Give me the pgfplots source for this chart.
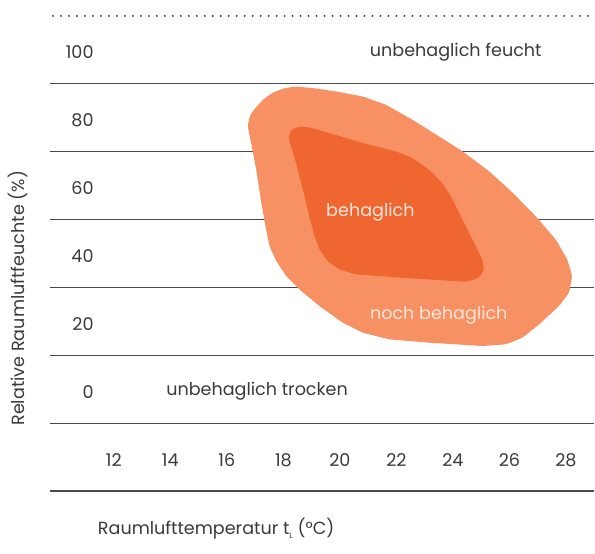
\documentclass[border=0pt]{standalone}
\usepackage{pgfplots}
\pgfplotsset{compat=1.18}
\usepackage{fontspec}
\setmainfont{Poppins}
\definecolor{outerc}{HTML}{F79164}
\definecolor{innerc}{HTML}{F06631}
\definecolor{txt}{HTML}{3A3A3A}
\definecolor{gridc}{HTML}{4A4A4A}
\definecolor{inlbl}{HTML}{FDE6DA}
\begin{document}
\begin{tikzpicture}
\begin{axis}[
  scale only axis,
  width=408.75pt, height=357pt,
  xmin=9.739, xmax=28.99,
  ymin=-30, ymax=110,
  clip=false,
  axis line style={draw=none},
  major tick length=0pt,
  font=\fontsize{13.2}{15}\selectfont\color{txt},
  /pgf/number format/assume math mode=true,
  xtick={12,14,...,28},
  xticklabel style={anchor=center, inner sep=0pt, yshift=23pt},
  ytick={0,20,...,100},
  yticklabel style={anchor=east, inner sep=0pt, xshift=33pt, yshift=-1.8pt},
  extra y ticks={-30,-10,10,30,50,70,90},
  extra y tick labels={},
  extra y tick style={grid=major, major grid style={draw=gridc, line width=0.9pt}},
]
% outer region (noch behaglich)
\addplot[fill=outerc, draw=none, rounded corners=2pt] coordinates {
(16.74,77.45) (16.80,80.39) (16.98,82.55) (17.27,85.29) (17.63,87.45)
(18.04,88.73) (18.45,89.22) (19.04,88.73) (19.87,87.75) (20.81,86.27)
(21.63,83.82) (22.57,79.41) (23.51,74.51) (24.34,70.10) (25.28,64.22)
(26.12,57.84) (26.93,50.98) (27.64,44.12) (28.05,38.24) (28.22,33.33)
(28.11,28.43) (27.75,24.51) (27.05,19.12) (26.46,15.20) (25.87,13.24)
(25.05,12.75) (23.16,13.73) (21.75,14.71) (20.81,16.67) (20.10,19.61)
(19.28,24.51) (18.57,29.41) (18.10,33.33) (17.75,37.75) (17.51,42.16)
(17.39,47.06) (17.22,54.90) (17.04,64.71) (16.86,72.55)
} -- cycle;
% inner region (behaglich)
\addplot[fill=innerc, draw=none, rounded corners=2pt] coordinates {
(18.19,74.51) (18.28,76.47) (18.57,77.45) (18.92,77.16) (19.63,75.49)
(20.81,72.55) (21.98,70.10) (22.57,68.14) (23.16,64.71) (23.63,60.78)
(23.93,56.86) (24.34,50.00) (24.81,42.16) (25.05,38.24) (25.10,35.29)
(24.93,32.84) (24.46,31.67) (23.16,32.35) (21.75,33.14) (20.57,33.82)
(19.98,35.29) (19.57,37.75) (19.28,41.18) (19.10,45.10) (18.92,50.98)
(18.69,58.82) (18.45,66.67) (18.22,73.04)
} -- cycle;
% dotted top line
\addplot[draw=txt, line width=1.6pt, line cap=round, dash pattern=on 0pt off 6pt] coordinates {(9.85,110) (28.99,110)};
% labels
\node[anchor=center, yshift=-1.8pt] at (axis cs:24.10,100) {unbehaglich feucht};
\node[anchor=center, yshift=-1.8pt] at (axis cs:17.07,0) {unbehaglich trocken};
\node[anchor=center, yshift=-1.8pt, text=inlbl] at (axis cs:21.08,52.94) {behaglich};
\node[anchor=center, yshift=-1.8pt, text=inlbl] at (axis cs:23.50,22.56) {noch behaglich};
\node[anchor=center, rotate=90] at (axis cs:8.61,26.8) {Relative Raumluftfeuchte (\%)};
\node[anchor=base west, inner sep=0pt] at (axis cs:11.43,-42.65) {Raumlufttemperatur t\raisebox{-0.5ex}{\fontsize{6}{6}\selectfont L} (°C)};
\path (axis cs:7.973,-48.53) rectangle (axis cs:28.99,114.7);
\end{axis}
\end{tikzpicture}
\end{document}
